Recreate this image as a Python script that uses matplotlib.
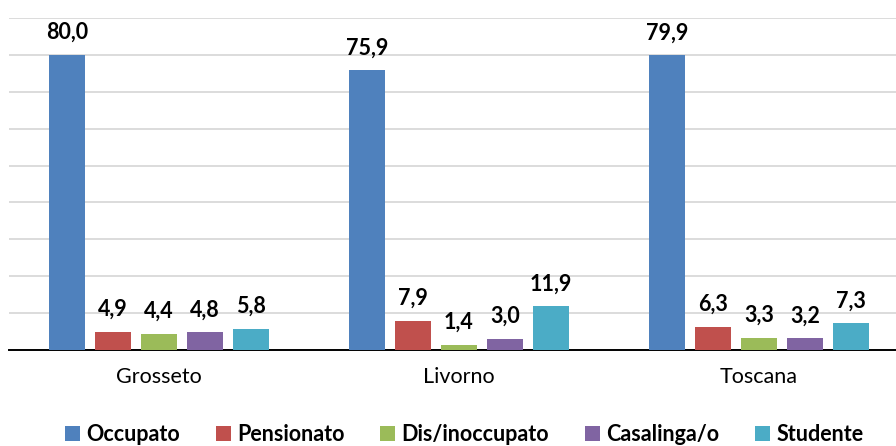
import numpy as np
import matplotlib.pyplot as plt

plt.rcParams["font.family"] = ["Lato", "DejaVu Sans"]

# data
areas = ["Grosseto", "Livorno", "Toscana"]
series = ["Occupato", "Pensionato", "Dis/inoccupato", "Casalinga/o", "Studente"]
occupato = [80.0, 75.9, 79.9]
pensionato = [4.9, 7.9, 6.3]
disoccupato = [4.4, 1.4, 3.3]
casalinga = [4.8, 3.0, 3.2]
studente = [5.8, 11.9, 7.3]
colors = ["#4F81BD", "#C0504D", "#9BBB59", "#8064A2", "#4BACC6"]


def main():
    values = [occupato, pensionato, disoccupato, casalinga, studente]

    fig = plt.figure(figsize=(8.96, 4.46), dpi=100)
    ax = fig.add_axes([9 / 896, 96 / 446, 887 / 896, 332 / 446])

    x = np.arange(len(areas))
    step = 0.1533
    width = 0.12
    for i, (name, vals, col) in enumerate(zip(series, values, colors)):
        pos = x + (i - 2) * step
        bars = ax.bar(pos, vals, width, color=col, label=name, zorder=3)
        for b, v in zip(bars, vals):
            ax.annotate(f"{v:.1f}".replace(".", ","),
                        (b.get_x() + b.get_width() / 2, v),
                        xytext=(0, 8.5), textcoords="offset points",
                        ha="center", va="bottom", fontsize=15.5,
                        fontweight="bold", color="#000000")

    ax.set_ylim(0, 90)
    ax.set_xlim(-0.5, 2.457)
    ax.set_yticks(np.arange(10, 91, 10))
    ax.yaxis.grid(True, color="#D9D9D9", linewidth=1.3, zorder=0)
    ax.tick_params(axis="y", left=False, labelleft=False)
    ax.set_xticks(x)
    ax.set_xticklabels(areas, fontsize=15.5)
    ax.tick_params(axis="x", length=0, pad=12)
    for s in ["top", "left", "right"]:
        ax.spines[s].set_visible(False)
    ax.spines["bottom"].set_linewidth(1.4)
    ax.spines["bottom"].set_color("#000000")

    fig.legend(loc="center", bbox_to_anchor=(0.518, 0.026), ncol=5,
               frameon=False, handlelength=0.7, handleheight=0.7,
               handletextpad=0.3, columnspacing=1.65,
               prop={"size": 15.5, "weight": "bold"})

    fig.savefig("out.png", dpi=100)
    plt.close(fig)


if __name__ == "__main__":
    main()
